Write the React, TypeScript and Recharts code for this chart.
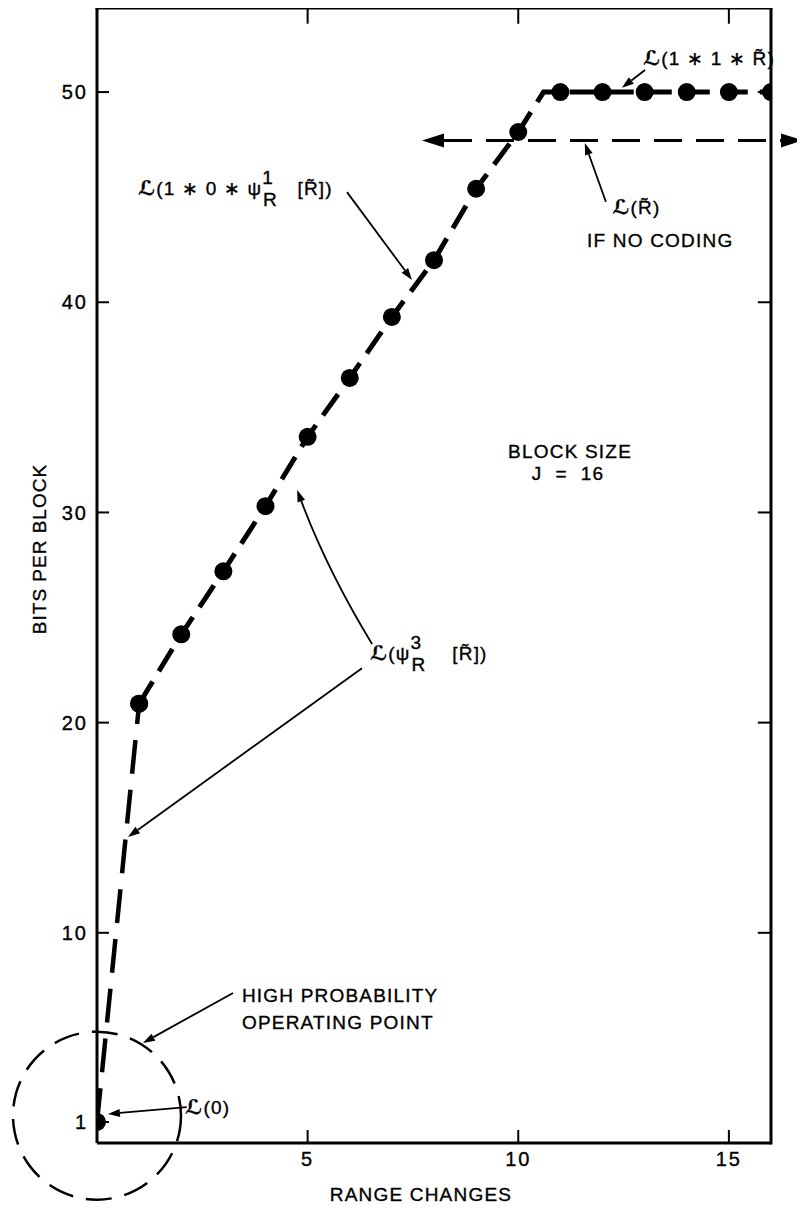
import React from 'react';
import { ComposedChart, Line, XAxis, YAxis, ReferenceLine, ReferenceDot } from 'recharts';

// ---- data ----
const rangeChanges = [0, 1, 2, 3, 4, 5, 6, 7, 8, 9, 10, 10.6, 11, 12, 13, 14, 15, 16];
const bitsPerBlock = [1, 20.9, 24.2, 27.2, 30.3, 33.6, 36.4, 39.3, 42.0, 45.4, 48.1, 50, 50, 50, 50, 50, 50, 50];
const plottedPoint = [1, 1, 1, 1, 1, 1, 1, 1, 1, 1, 1, 0, 1, 1, 1, 1, 1, 1];
const noCodingBits = 47.7;
const xTicks = [5, 10, 15];
const yTicks = [1, 10, 20, 30, 40, 50];
const frameYTicks = [10, 20, 30, 40, 50];
const X_MAX = 16;
const Y_MAX = 54;

const points = rangeChanges.map((x, i) => ({ x, y: bitsPerBlock[i], marker: plottedPoint[i] === 1 }));
const startSegment = points.slice(0, 2);
const codedSegment = points.slice(1);

const FONT = '"Liberation Sans", Arial, "DejaVu Sans", sans-serif';
const INK = '#000';

const renderDot = (p: any) => {
  const { cx, cy, payload, index } = p;
  if (!payload || !payload.marker) return <g key={`n${index}`} />;
  return <circle key={`d${index}`} cx={cx} cy={cy} r={9} fill={INK} stroke="none" />;
};

type ArrowOpts = { width?: number; head?: number; half?: number; dash?: string; both?: boolean; curve?: number };

const arrowShape = (p: any, o: ArrowOpts) => {
  const { x1, y1, x2, y2 } = p;
  const L = o.head ?? 12;
  const W = o.half ?? 4;
  const curve = o.curve ?? 0;
  const mx = (x1 + x2) / 2;
  const my = (y1 + y2) / 2;
  const len = Math.hypot(x2 - x1, y2 - y1) || 1;
  const nx = -(y2 - y1) / len;
  const ny = (x2 - x1) / len;
  const cxp = mx + nx * curve;
  const cyp = my + ny * curve;
  const headAt = (tx: number, ty: number, fx: number, fy: number) => {
    const a = Math.atan2(ty - fy, tx - fx);
    const bx = tx - L * Math.cos(a);
    const by = ty - L * Math.sin(a);
    const px = -Math.sin(a) * W;
    const py = Math.cos(a) * W;
    return { pts: `${tx},${ty} ${bx + px},${by + py} ${bx - px},${by - py}`, bx, by };
  };
  const end = curve ? headAt(x2, y2, cxp, cyp) : headAt(x2, y2, x1, y1);
  const start = o.both ? headAt(x1, y1, x2, y2) : null;
  const sx = start ? start.bx : x1;
  const sy = start ? start.by : y1;
  const d = curve
    ? `M${sx},${sy} Q${cxp},${cyp} ${end.bx},${end.by}`
    : `M${sx},${sy} L${end.bx},${end.by}`;
  return (
    <g>
      <path d={d} fill="none" stroke={INK} strokeWidth={o.width ?? 1.8} strokeDasharray={o.dash} />
      <polygon points={end.pts} fill={INK} />
      {start && <polygon points={start.pts} fill={INK} />}
    </g>
  );
};

const arrow = (key: string, from: [number, number], to: [number, number], o: ArrowOpts = {}) => (
  <ReferenceLine
    key={key}
    segment={[{ x: from[0], y: from[1] }, { x: to[0], y: to[1] }]}
    ifOverflow="visible"
    shape={(p: any) => arrowShape(p, o)}
  />
);

const seg = (key: string, from: [number, number], to: [number, number], w: number) => (
  <ReferenceLine
    key={key}
    segment={[{ x: from[0], y: from[1] }, { x: to[0], y: to[1] }]}
    ifOverflow="visible"
    stroke={INK}
    strokeWidth={w}
    strokeLinecap="square"
  />
);

const note = (
  key: string,
  x: number,
  y: number,
  content: React.ReactNode,
  anchor: 'start' | 'middle' | 'end' = 'start',
  size = 19,
  rotate = 0,
  spacing = 1.2
) => (
  <ReferenceDot
    key={key}
    x={x}
    y={y}
    r={0}
    ifOverflow="visible"
    shape={(p: any) => (
      <text
        x={p.cx}
        y={p.cy}
        textAnchor={anchor}
        fontFamily={FONT}
        fontSize={size}
        letterSpacing={spacing}
        fill={INK}
        stroke={INK}
        strokeWidth={0.35}
        style={{ whiteSpace: 'pre' }}
        transform={rotate ? `rotate(${rotate} ${p.cx} ${p.cy})` : undefined}
      >
        {content}
      </text>
    )}
  />
);

const SCRIPT_L = (
  <tspan fontFamily='"DejaVu Serif", "DejaVu Sans", serif' fontStyle="italic" fontWeight="bold" fontSize={20}>
    ℒ
  </tspan>
);
const RT = 'R\u0303';

const tickFont = { fill: INK, fontSize: 20, fontFamily: FONT, letterSpacing: 2, stroke: INK, strokeWidth: 0.35 };

export default function App() {
  return (
    <div style={{ width: 797, height: 1200 }}>
      <style>{`.recharts-surface{overflow:visible}`}</style>
      <ComposedChart width={797} height={1200} margin={{ top: 0, right: 34, bottom: 0, left: 0 }}>
        <XAxis
          dataKey="x"
          type="number"
          domain={[0, X_MAX]}
          ticks={xTicks}
          allowDataOverflow
          height={65}
          axisLine={{ stroke: INK, strokeWidth: 3 }}
          tickLine={{ stroke: INK, strokeWidth: 2 }}
          tickSize={-13}
          tickMargin={22}
          tick={tickFont}
        />
        <YAxis
          type="number"
          domain={[0, Y_MAX]}
          ticks={yTicks}
          allowDataOverflow
          width={89}
          axisLine={{ stroke: INK, strokeWidth: 3 }}
          tickLine={{ stroke: INK, strokeWidth: 2 }}
          tickSize={-12}
          tickMargin={21}
          tick={tickFont}
        />

        {/* frame: top and right edges with inward ticks */}
        {seg('frameTop', [0, Y_MAX], [X_MAX, Y_MAX], 3)}
        {seg('frameRight', [X_MAX, 0], [X_MAX, Y_MAX], 3)}
        {xTicks.map((t) => seg(`tt${t}`, [t, Y_MAX], [t, Y_MAX - 0.7], 2))}
        {frameYTicks.map((t) => seg(`rt${t}`, [X_MAX, t], [X_MAX - 0.29, t], 2))}

        <Line
          data={startSegment}
          dataKey="y"
          stroke={INK}
          strokeWidth={4.5}
          strokeDasharray="34 16"
          dot={renderDot}
          activeDot={false}
          isAnimationActive={false}
        />
        <Line
          data={codedSegment}
          dataKey="y"
          stroke={INK}
          strokeWidth={5}
          strokeDasharray="26 12"
          dot={renderDot}
          activeDot={false}
          isAnimationActive={false}
        />

        {/* "no coding" reference level with double arrow */}
        {arrow('nocode', [7.715, noCodingBits], [16.76, noCodingBits], {
          width: 3,
          head: 22,
          half: 7,
          dash: '28 14',
          both: true,
        })}

        {/* high-probability operating point circle */}
        <ReferenceDot
          x={0}
          y={1.3}
          r={84}
          ifOverflow="visible"
          fill="none"
          stroke={INK}
          strokeWidth={2.5}
          strokeDasharray="26 13"
        />

        {/* annotation arrows */}
        {arrow('a1', [5.935, 45.24], [7.478, 41.06])}
        {arrow('a2', [13.01, 51.05], [12.46, 50.2])}
        {arrow('a3', [12.08, 44.78], [11.58, 47.58])}
        {arrow('a4', [6.53, 23.74], [4.75, 31.07], { curve: -8 })}
        {arrow('a5', [6.29, 22.59], [0.736, 14.56])}
        {arrow('a6', [3.23, 7.14], [1.09, 4.76])}
        {arrow('a7', [2.13, 1.71], [0.26, 1.38])}

        {/* annotation texts */}
        {note(
          't1',
          0.973,
          45.1,
          <>
            {SCRIPT_L}
            <tspan>{'(1 ∗ 0 ∗ ψ'}</tspan>
            <tspan dy={-11}>1</tspan>
            <tspan dx={-11} dy={22}>R</tspan>
            <tspan dy={-11}>{'   ['}{RT}{'])'}</tspan>
          </>
        )}
        {note(
          't2',
          12.96,
          51.3,
          <>
            {SCRIPT_L}
            <tspan>{'(1 ∗ 1 ∗ '}{RT}{')'}</tspan>
          </>
        )}
        {note(
          't3',
          12.23,
          44.2,
          <>
            {SCRIPT_L}
            <tspan>({RT})</tspan>
          </>
        )}
        {note('t4', 13.37, 42.63, 'IF NO CODING', 'middle')}
        {note('t5', 11.23, 32.6, 'BLOCK SIZE', 'middle')}
        {note('t6', 11.18, 31.54, 'J  =  16', 'middle')}
        {note(
          't7',
          6.48,
          22.98,
          <>
            {SCRIPT_L}
            <tspan>(ψ</tspan>
            <tspan dy={-11}>3</tspan>
            <tspan dx={-11} dy={22}>R</tspan>
            <tspan dy={-11}>{'    ['}{RT}{'])'}</tspan>
          </>
        )}
        {note('t8', 3.44, 6.71, 'HIGH PROBABILITY')}
        {note('t9', 3.44, 5.42, 'OPERATING POINT')}
        {note(
          't10',
          2.09,
          1.38,
          <>
            {SCRIPT_L}
            <tspan>(0)</tspan>
          </>
        )}

        {/* axis titles */}
        {note('xt', 7.69, -2.76, 'RANGE CHANGES', 'middle', 19, 0, 1.2)}
        {note('yt', -1.2, 28.26, 'BITS PER BLOCK', 'middle', 19, -90, 1)}
      </ComposedChart>
    </div>
  );
}
